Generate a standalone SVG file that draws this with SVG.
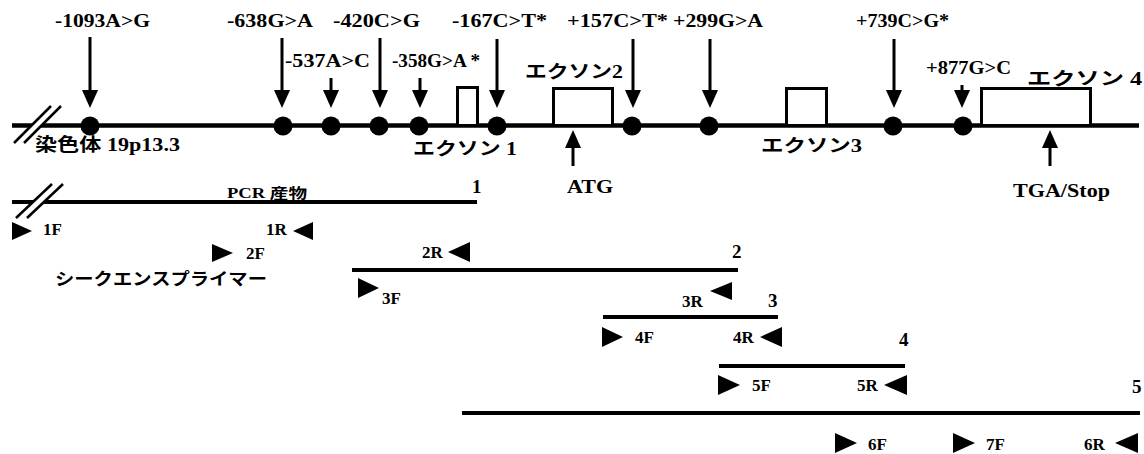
<svg xmlns="http://www.w3.org/2000/svg" width="1144" height="454" viewBox="0 0 1144 454">
<defs>
<style>
.bg{fill:#fff}
.ln{stroke:#000;stroke-width:4.5;fill:none}
.pl{stroke:#000;stroke-width:4;fill:none}
.ex{stroke:#000;stroke-width:3;fill:#fff}
.dot{fill:#000}
.ar{stroke:#000;stroke-width:3;fill:none;marker-end:url(#ah)}
.sl{stroke:#000;stroke-width:2.5}
.gap{stroke:#fff;stroke-width:7}
.tri{fill:#000}
.t{font-family:"Liberation Serif","Noto Sans CJK JP",serif;font-weight:bold;font-size:19px;fill:#000}
.j{font-family:"Liberation Serif","Noto Sans CJK JP",serif;font-weight:bold;font-size:18px;fill:#000}
.p{font-family:"Liberation Serif","Noto Sans CJK JP",serif;font-weight:bold;font-size:14px;fill:#000}
.s{font-family:"Liberation Serif",serif;font-weight:bold;font-size:17px;fill:#000}
.k{font-family:"Noto Sans CJK JP",sans-serif;font-weight:bold;font-size:17px;fill:#000}
</style>
<marker id="ah" viewBox="0 0 18 16" refX="10" refY="8" markerWidth="18" markerHeight="16" markerUnits="userSpaceOnUse" orient="auto">
<path d="M0,0 L18,8 L0,16 z" fill="#000"/>
</marker>
</defs>
<rect class="bg" x="0" y="0" width="1144" height="454"/>

<g id="chromosome">
<line class="ln" x1="12" y1="125.5" x2="1139" y2="125.5"/>
<line class="gap" x1="19" y1="143" x2="56" y2="106"/>
<line class="sl" x1="14" y1="143" x2="51" y2="106"/>
<line class="sl" x1="24" y1="143" x2="61" y2="106"/>
<text class="j" x="35" y="151" textLength="145" lengthAdjust="spacingAndGlyphs">染色体 19p13.3</text>
</g>

<g id="exon1"><rect class="ex" x="457.5" y="87.5" width="20" height="38"/><text class="j" x="413" y="155" textLength="104" lengthAdjust="spacingAndGlyphs">エクソン 1</text></g>
<g id="exon2"><rect class="ex" x="553.5" y="88.5" width="59" height="37"/><text class="j" x="525" y="78" textLength="98" lengthAdjust="spacingAndGlyphs">エクソン2</text></g>
<g id="exon3"><rect class="ex" x="786.5" y="88.5" width="40" height="37"/><text class="j" x="761" y="152" textLength="101" lengthAdjust="spacingAndGlyphs">エクソン3</text></g>
<g id="exon4"><rect class="ex" x="981.5" y="88.5" width="109" height="37"/><text class="j" x="1027" y="85" textLength="115" lengthAdjust="spacingAndGlyphs">エクソン 4</text></g>

<g id="snp-1093"><circle class="dot" cx="90" cy="126" r="9.5"/><text class="t" x="55" y="27" textLength="95" lengthAdjust="spacingAndGlyphs">-1093A&gt;G</text></g>
<g id="snp-638"><circle class="dot" cx="283" cy="126" r="9.5"/><text class="t" x="227" y="27" textLength="86" lengthAdjust="spacingAndGlyphs">-638G&gt;A</text></g>
<g id="snp-537"><circle class="dot" cx="331" cy="126" r="9.5"/><text class="t" x="285" y="67" textLength="85" lengthAdjust="spacingAndGlyphs">-537A&gt;C</text></g>
<g id="snp-420"><circle class="dot" cx="379" cy="126" r="9.5"/><text class="t" x="333" y="27" textLength="87" lengthAdjust="spacingAndGlyphs">-420C&gt;G</text></g>
<g id="snp-358"><circle class="dot" cx="419" cy="126" r="9.5"/><text class="t" x="392" y="67" textLength="88" lengthAdjust="spacingAndGlyphs">-358G&gt;A *</text></g>
<g id="snp-167"><circle class="dot" cx="497" cy="126" r="9.5"/><text class="t" x="452" y="27" textLength="95" lengthAdjust="spacingAndGlyphs">-167C&gt;T*</text></g>
<g id="snp157"><circle class="dot" cx="632" cy="126" r="9.5"/><text class="t" x="567" y="27" textLength="101" lengthAdjust="spacingAndGlyphs">+157C&gt;T*</text></g>
<g id="snp299"><circle class="dot" cx="709" cy="126" r="9.5"/><text class="t" x="673" y="27" textLength="90" lengthAdjust="spacingAndGlyphs">+299G&gt;A</text></g>
<g id="snp739"><circle class="dot" cx="893" cy="126" r="9.5"/><text class="t" x="856" y="27" textLength="93" lengthAdjust="spacingAndGlyphs">+739C&gt;G*</text></g>
<g id="snp877"><circle class="dot" cx="963" cy="126" r="9.5"/><text class="t" x="926" y="74" textLength="85" lengthAdjust="spacingAndGlyphs">+877G&gt;C</text></g>

<g id="atg"><text class="t" x="567" y="193" textLength="46" lengthAdjust="spacingAndGlyphs">ATG</text></g>
<g id="stop"><text class="t" x="1013" y="197" textLength="97" lengthAdjust="spacingAndGlyphs">TGA/Stop</text></g>

<g id="connectors">
<line class="ar" x1="90" y1="37" x2="90" y2="100"/>
<line class="ar" x1="282" y1="38" x2="282" y2="100"/>
<line class="ar" x1="331" y1="78" x2="331" y2="100"/>
<line class="ar" x1="380" y1="38" x2="380" y2="100"/>
<line class="ar" x1="420" y1="78" x2="420" y2="100"/>
<line class="ar" x1="497" y1="39" x2="497" y2="100"/>
<line class="ar" x1="633" y1="39" x2="633" y2="100"/>
<line class="ar" x1="710" y1="39" x2="710" y2="100"/>
<line class="ar" x1="894" y1="39" x2="894" y2="100"/>
<line class="ar" x1="962" y1="85" x2="962" y2="100"/>
<line class="ar" x1="573" y1="166" x2="573" y2="138"/>
<line class="ar" x1="1050" y1="166" x2="1050" y2="138"/>
</g>

<g id="pcr1">
<line class="pl" x1="12" y1="202" x2="477" y2="202"/>
<line class="gap" x1="22" y1="218" x2="58" y2="184"/>
<line class="sl" x1="16" y1="218" x2="52" y2="184"/>
<line class="sl" x1="27" y1="218" x2="63" y2="184"/>
<text class="p" x="227" y="198" textLength="80" lengthAdjust="spacingAndGlyphs">PCR 産物</text>
<text class="t" x="472" y="193">1</text>
</g>
<g id="pcr2"><line class="pl" x1="352" y1="270" x2="738" y2="270"/><text class="t" x="732" y="258">2</text></g>
<g id="pcr3"><line class="pl" x1="603" y1="317" x2="778" y2="317"/><text class="t" x="768" y="307">3</text></g>
<g id="pcr4"><line class="pl" x1="719" y1="366" x2="905" y2="366"/><text class="t" x="899" y="346">4</text></g>
<g id="pcr5"><line class="pl" x1="462" y1="413" x2="1140" y2="413"/><text class="t" x="1132" y="393">5</text></g>

<g id="primer-label"><text class="k" x="55" y="285" textLength="212" lengthAdjust="spacingAndGlyphs">シークエンスプライマー</text></g>

<g id="p1F"><polygon class="tri" points="12,222 32,231 12,240"/><text class="s" x="43" y="235">1F</text></g>
<g id="p1R"><polygon class="tri" points="313,222 293,231 313,240"/><text class="s" x="266" y="235">1R</text></g>
<g id="p2F"><polygon class="tri" points="212,244 233,253 212,262"/><text class="s" x="246" y="259">2F</text></g>
<g id="p2R"><polygon class="tri" points="470,242 448,252 470,262"/><text class="s" x="422" y="258">2R</text></g>
<g id="p3F"><polygon class="tri" points="358,278 379,288 358,298"/><text class="s" x="382" y="304">3F</text></g>
<g id="p3R"><polygon class="tri" points="732,282 710,291 732,300"/><text class="s" x="682" y="307">3R</text></g>
<g id="p4F"><polygon class="tri" points="602,327 623,337 602,347"/><text class="s" x="635" y="343">4F</text></g>
<g id="p4R"><polygon class="tri" points="782,327 760,337 782,347"/><text class="s" x="733" y="343">4R</text></g>
<g id="p5F"><polygon class="tri" points="718,375 740,385 718,395"/><text class="s" x="752" y="391">5F</text></g>
<g id="p5R"><polygon class="tri" points="907,375 884,385 907,395"/><text class="s" x="857" y="391">5R</text></g>
<g id="p6F"><polygon class="tri" points="835,433 857,443 835,453"/><text class="s" x="868" y="450">6F</text></g>
<g id="p7F"><polygon class="tri" points="953,433 975,443 953,453"/><text class="s" x="986" y="450">7F</text></g>
<g id="p6R"><polygon class="tri" points="1138,433 1115,443 1138,453"/><text class="s" x="1084" y="450">6R</text></g>
</svg>
